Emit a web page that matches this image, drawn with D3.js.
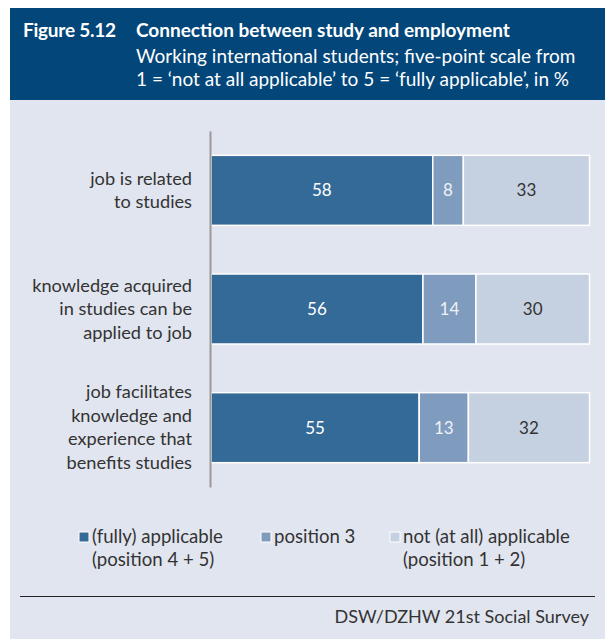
<!DOCTYPE html>
<html>
<head>
<meta charset="utf-8">
<script src="https://cdn.jsdelivr.net/npm/d3@7"></script>
<style>
  html, body { margin: 0; padding: 0; background: #ffffff; }
  svg { display: block; }
  text { font-family: Lato, "Noto Sans", sans-serif; }
</style>
</head>
<body>
<svg id="chart" width="605" height="639"></svg>
<script>
// Statements rated by working international students
const categories = [
  ["job is related", "to studies"],
  ["knowledge acquired", "in studies can be", "applied to job"],
  ["job facilitates", "knowledge and", "experience that", "benefits studies"]
];
const seriesNames = ["applicable", "position3", "notApplicable"];
const applicable    = [58, 56, 55];
const position3     = [8, 14, 13];
const notApplicable = [33, 30, 32];
const legendLabels = [
  ["(fully) applicable", "(position 4 + 5)"],
  ["position 3"],
  ["not (at all) applicable", "(position 1 + 2)"]
];
const titleLabel = "Figure 5.12";
const titleText = "Connection between study and employment";
const subtitleLines = [
  "Working international students; five-point scale from",
  "1 = \u2018not at all applicable\u2019 to 5 = \u2018fully applicable\u2019, in %"
];
const sourceText = "DSW/DZHW 21st Social Survey";

const colors = ["#346a98", "#7f9cbf", "#c5d0e0"];
const valueColors = ["#ffffff", "#eef2f7", "#333333"];

const svg = d3.select("#chart");

// panel and header
svg.append("rect").attr("x", 10).attr("y", 100).attr("width", 595).attr("height", 539).attr("fill", "#e1e5ef");
svg.append("rect").attr("x", 10).attr("y", 8).attr("width", 595).attr("height", 92).attr("fill", "#02467a");

svg.append("text").attr("x", 23).attr("y", 37).attr("fill", "#ffffff")
  .attr("font-size", 19).attr("font-weight", 700).attr("textLength", 93).text(titleLabel);
svg.append("text").attr("x", 136).attr("y", 37).attr("fill", "#ffffff")
  .attr("font-size", 19).attr("font-weight", 700).text(titleText);
subtitleLines.forEach((s, i) => {
  svg.append("text").attr("x", 136).attr("y", 63 + i * 23).attr("fill", "#ffffff")
    .attr("font-size", 19).text(s);
});

// data rows
const rows = categories.map((c, i) => ({
  key: i,
  applicable: applicable[i],
  position3: position3[i],
  notApplicable: notApplicable[i]
}));
const stacked = d3.stack().keys(seriesNames).offset(d3.stackOffsetExpand)(rows);

const x = d3.scaleLinear().domain([0, 1]).range([211, 589.5]);
const y = d3.scaleBand().domain(rows.map(r => r.key)).range([131, 487])
  .paddingInner(0.41).paddingOuter(0.205);

const layers = svg.append("g").selectAll("g").data(stacked).join("g")
  .attr("fill", (d, i) => colors[i]);

layers.selectAll("rect").data(d => d).join("rect")
  .attr("x", d => x(d[0]))
  .attr("y", d => y(d.data.key))
  .attr("width", d => x(d[1]) - x(d[0]))
  .attr("height", y.bandwidth())
  .attr("stroke", "#ffffff")
  .attr("stroke-width", 1.5);

layers.each(function(layer, li) {
  d3.select(this).selectAll("text").data(layer).join("text")
    .attr("x", d => (x(d[0]) + x(d[1])) / 2)
    .attr("y", d => y(d.data.key) + y.bandwidth() / 2 + 6)
    .attr("text-anchor", "middle")
    .attr("font-size", 17)
    .attr("fill", valueColors[li])
    .text(d => d.data[layer.key]);
});

// axis line
const yAxis = d3.axisLeft(y).tickSize(0).tickFormat("");
const axisG = svg.append("g").attr("transform", "translate(210,0)").call(yAxis);
axisG.select(".domain").attr("stroke", "#999999").attr("stroke-width", 2);

// category labels
categories.forEach((lines, i) => {
  const cy = y(i) + y.bandwidth() / 2;
  const lh = 23.5;
  const t = svg.append("text").attr("text-anchor", "end").attr("fill", "#333333").attr("font-size", 18.2);
  lines.forEach((l, j) => {
    t.append("tspan").attr("x", 192)
      .attr("y", cy + (j - (lines.length - 1) / 2) * lh + 6).text(l);
  });
});

// legend
const legendX = [79, 261, 390];
legendLabels.forEach((lines, i) => {
  svg.append("rect").attr("x", legendX[i]).attr("y", 532).attr("width", 10).attr("height", 10)
    .attr("fill", colors[i]).attr("stroke", "#ffffff").attr("stroke-width", 1);
  lines.forEach((l, j) => {
    svg.append("text").attr("x", legendX[i] + 13).attr("y", 543 + j * 23)
      .attr("fill", "#333333").attr("font-size", 18.6).text(l);
  });
});

// footer
svg.append("line").attr("x1", 20).attr("x2", 595).attr("y1", 596.5).attr("y2", 596.5)
  .attr("stroke", "#222222").attr("stroke-width", 1);
svg.append("text").attr("x", 589).attr("y", 623).attr("text-anchor", "end")
  .attr("fill", "#333333").attr("font-size", 18).text(sourceText);
</script>
</body>
</html>
